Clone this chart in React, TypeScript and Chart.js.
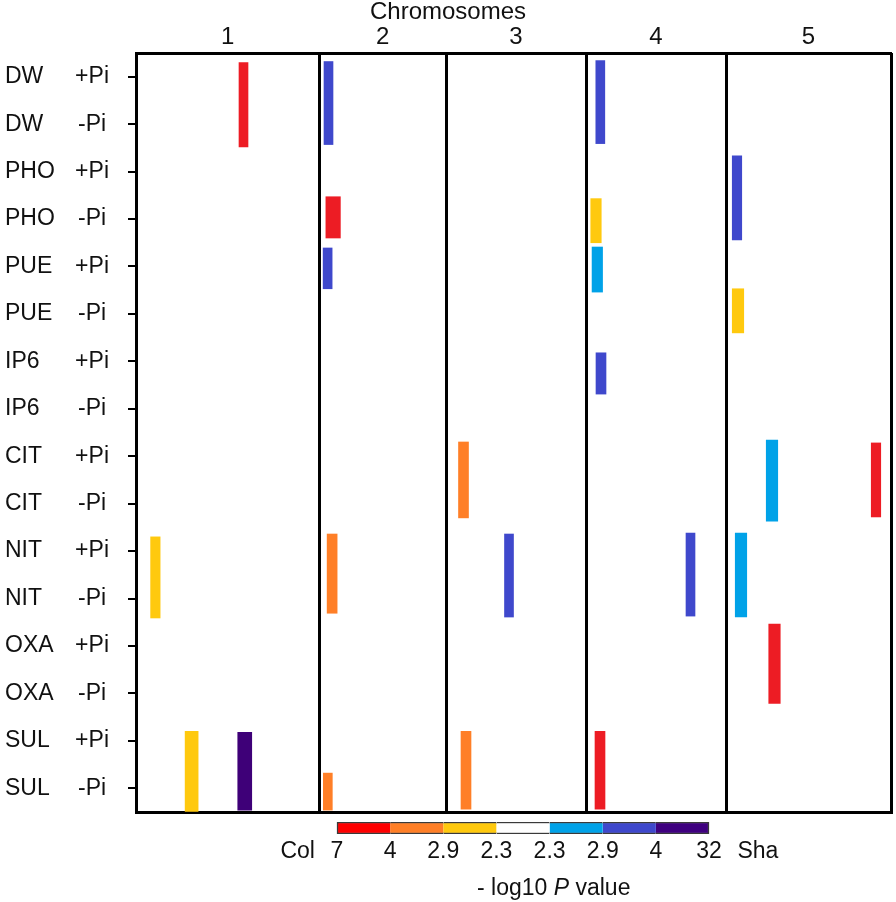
import React, { useEffect, useRef } from "react";
import { Chart, registerables } from "chart.js";

Chart.register(...registerables);

const FONT = "'Liberation Sans', Arial, Helvetica, sans-serif";
const TEXT = "#111111";

// ---------- data ----------
const CHROMOSOMES = ["1", "2", "3", "4", "5"];
const CHR_LENGTH_MB = [29.3, 20.3, 22.4, 22.4, 26.4];

const TRAITS = ["DW", "DW", "PHO", "PHO", "PUE", "PUE", "IP6", "IP6", "CIT", "CIT", "NIT", "NIT", "OXA", "OXA", "SUL", "SUL"];
const CONDITIONS = ["+Pi", "-Pi", "+Pi", "-Pi", "+Pi", "-Pi", "+Pi", "-Pi", "+Pi", "-Pi", "+Pi", "-Pi", "+Pi", "-Pi", "+Pi", "-Pi"];

// QTL: chromosome, position within chromosome (Mb), row span (row index units), significance class
const QTL_CHR = [1, 1, 1, 1, 2, 2, 2, 2, 2, 3, 3, 3, 4, 4, 4, 4, 4, 4, 5, 5, 5, 5, 5, 5];
const QTL_POS_MB = [17.2, 3.1, 8.9, 17.4, 1.5, 2.24, 1.36, 2.08, 1.39, 2.8, 10.08, 3.2, 2.29, 1.6, 1.81, 2.4, 16.72, 2.24, 1.76, 1.92, 7.36, 24.0, 2.4, 7.76];
const QTL_ROW_FROM = [-0.3, 9.7, 13.8, 13.82, -0.32, 2.53, 3.61, 9.64, 14.68, 7.7, 9.64, 13.8, -0.34, 2.57, 3.59, 5.82, 9.62, 13.8, 1.67, 4.47, 7.66, 7.72, 9.62, 11.54];
const QTL_ROW_TO = [1.48, 11.41, 15.49, 15.46, 1.43, 3.4, 4.47, 11.31, 15.46, 9.3, 11.39, 15.44, 1.41, 3.5, 4.54, 6.69, 11.37, 15.44, 3.44, 5.4, 9.37, 9.28, 11.39, 13.21];
// 0: Col >7, 1: Col 4-7, 2: Col 2.9-4, 3: none, 4: Sha 2.9, 5: Sha 4, 6: Sha 32
const QTL_CLASS = [0, 2, 2, 6, 5, 0, 5, 1, 1, 1, 5, 1, 5, 2, 4, 5, 5, 0, 5, 2, 4, 0, 4, 0];

const LEGEND_TICKS = ["7", "4", "2.9", "2.3", "2.3", "2.9", "4", "32"];
const LEGEND_ENDS = ["Col", "Sha"];

// ---------- styles ----------
const CLASS_BAR_COLORS = ["#ED1C24", "#FF7F27", "#FFC90E", "#FFFFFF", "#00A2E8", "#3F48CC", "#3E0078"];
const CLASS_LEGEND_COLORS = ["#FF0000", "#FF7F27", "#FFC90E", "#FFFFFF", "#00A2E8", "#3F48CC", "#3F007F"];
const QTL_BAR_PX = [9, 9.5, 13, 14, 9, 14.5, 9, 10, 9, 10, 9, 10, 9, 10.5, 10.5, 10, 9, 10, 9.5, 11.5, 11.5, 9.5, 11.5, 11.5];

export default function App() {
  const mainRef = useRef<HTMLCanvasElement | null>(null);
  const legRef = useRef<HTMLCanvasElement | null>(null);

  useEffect(() => {
    const chrStart: number[] = [];
    CHR_LENGTH_MB.forEach((_, i) => chrStart.push(i === 0 ? 0 : chrStart[i - 1] + CHR_LENGTH_MB[i - 1]));
    const genomeEnd = chrStart[chrStart.length - 1] + CHR_LENGTH_MB[CHR_LENGTH_MB.length - 1];
    const boundaries = [...chrStart, genomeEnd];
    const centers = chrStart.map((s, i) => s + CHR_LENGTH_MB[i] / 2);
    const rowIdx = TRAITS.map((_, i) => i);

    const datasets: any[] = QTL_CHR.map((c, i) => ({
      type: "bar",
      data: [{ x: chrStart[c - 1] + QTL_POS_MB[i], y: [QTL_ROW_FROM[i], QTL_ROW_TO[i]] }],
      backgroundColor: CLASS_BAR_COLORS[QTL_CLASS[i]],
      borderWidth: 0,
      barThickness: QTL_BAR_PX[i],
      grouped: false,
      xAxisID: "x",
      yAxisID: "y",
    }));

    const main = new Chart(mainRef.current as HTMLCanvasElement, {
      type: "bar",
      data: { datasets },
      options: {
        animation: false,
        responsive: false,
        maintainAspectRatio: false,
        layout: { padding: { left: 5, right: 5, top: 0, bottom: 38 } },
        plugins: {
          legend: { display: false },
          tooltip: { enabled: false },
          title: {
            display: true,
            text: "Chromosomes",
            color: TEXT,
            font: { family: FONT, size: 24, weight: "normal", lineHeight: 1 },
            padding: 0,
          },
        },
        scales: {
          x: {
            type: "linear",
            position: "bottom",
            min: 0,
            max: genomeEnd,
            offset: false,
            afterBuildTicks: (s: any) => {
              s.ticks = boundaries.map((v) => ({ value: v }));
            },
            ticks: { display: false },
            grid: { display: true, offset: false, drawOnChartArea: true, drawTicks: false, color: "#000", lineWidth: 3 },
            border: { display: true, color: "#000", width: 3 },
            afterFit: (s: any) => {
              s.height = 0;
            },
          },
          xTop: {
            type: "linear",
            position: "top",
            min: 0,
            max: genomeEnd,
            offset: false,
            afterBuildTicks: (s: any) => {
              s.ticks = centers.map((v) => ({ value: v }));
            },
            ticks: {
              callback: (_v: any, i: number) => CHROMOSOMES[i],
              autoSkip: false,
              maxRotation: 0,
              padding: 4,
              color: TEXT,
              font: { family: FONT, size: 24, lineHeight: 1 },
            },
            grid: { display: false, drawTicks: false, offset: false },
            border: { display: true, color: "#000", width: 3 },
            afterFit: (s: any) => {
              s.height = 29;
            },
          },
          y: {
            type: "linear",
            position: "left",
            reverse: true,
            min: -0.5,
            max: 15.5,
            weight: 0,
            afterBuildTicks: (s: any) => {
              s.ticks = rowIdx.map((v) => ({ value: v }));
            },
            ticks: {
              callback: (_v: any, i: number) => CONDITIONS[i],
              autoSkip: false,
              crossAlign: "center",
              padding: 19,
              color: TEXT,
              font: { family: FONT, size: 23 },
            },
            grid: { display: true, drawOnChartArea: false, drawTicks: true, tickLength: 8, color: "#000", lineWidth: 2 },
            border: { display: true, color: "#000", width: 3 },
            afterFit: (s: any) => {
              s.width = 76;
            },
          },
          yNames: {
            type: "linear",
            position: "left",
            reverse: true,
            min: -0.5,
            max: 15.5,
            weight: 1,
            afterBuildTicks: (s: any) => {
              s.ticks = rowIdx.map((v) => ({ value: v }));
            },
            ticks: {
              callback: (_v: any, i: number) => TRAITS[i],
              autoSkip: false,
              crossAlign: "far",
              padding: 3,
              color: TEXT,
              font: { family: FONT, size: 23 },
            },
            grid: { display: false, drawTicks: false },
            border: { display: false },
            afterFit: (s: any) => {
              s.width = 55;
            },
          },
        } as any,
      },
    });

    const legendTickValues = [-0.74, ...LEGEND_TICKS.map((_, i) => i), LEGEND_TICKS.length - 1 + 0.92];
    const legendTickLabels = [LEGEND_ENDS[0], ...LEGEND_TICKS, LEGEND_ENDS[1]];
    const nSeg = CLASS_LEGEND_COLORS.length;
    const segPx = (709 - 337) / nSeg;

    const legend = new Chart(legRef.current as HTMLCanvasElement, {
      type: "bar",
      data: {
        labels: [""],
        datasets: CLASS_LEGEND_COLORS.map((col, i) => ({
          data: [1],
          backgroundColor: col,
          borderColor: "#3a3a3a",
          borderWidth: { top: 1.5, bottom: 1.5, left: i === 0 ? 1.5 : 0, right: i === nSeg - 1 ? 1.5 : 0 },
          borderSkipped: false,
          barPercentage: 1,
          categoryPercentage: 1,
        })),
      },
      options: {
        indexAxis: "y",
        animation: false,
        responsive: false,
        maintainAspectRatio: false,
        layout: { padding: { left: 337 - segPx, right: 896 - (337 + nSeg * segPx + segPx), top: 10, bottom: 0 } },
        plugins: { legend: { display: false }, tooltip: { enabled: false }, title: { display: false } },
        scales: {
          x: {
            type: "linear",
            min: -1,
            max: nSeg + 1,
            stacked: true,
            afterBuildTicks: (s: any) => {
              s.ticks = legendTickValues.map((v) => ({ value: v }));
            },
            ticks: {
              callback: (_v: any, i: number) => legendTickLabels[i],
              autoSkip: false,
              maxRotation: 0,
              padding: 6.5,
              color: TEXT,
              font: { family: FONT, size: 23, lineHeight: 1 },
            },
            grid: { display: false, drawTicks: false },
            border: { display: false },
            afterFit: (s: any) => {
              s.height = 68;
            },
          },
          y: { display: false, stacked: true },
        } as any,
      },
    });

    return () => {
      main.destroy();
      legend.destroy();
    };
  }, []);

  return (
    <div style={{ position: "absolute", left: 0, top: 0, width: 896, height: 902, background: "#fff", overflow: "hidden" }}>
      <canvas ref={mainRef} width={896} height={850} style={{ position: "absolute", left: 0, top: 0, width: 896, height: 850 }} />
      <canvas ref={legRef} width={896} height={90} style={{ position: "absolute", left: 0, top: 812, width: 896, height: 90 }} />
      <div
        style={{
          position: "absolute",
          left: 477,
          top: 875.5,
          fontFamily: FONT,
          fontSize: 23,
          lineHeight: "23px",
          color: TEXT,
          whiteSpace: "nowrap",
        }}
      >
        - log10 <i>P</i> value
      </div>
    </div>
  );
}
